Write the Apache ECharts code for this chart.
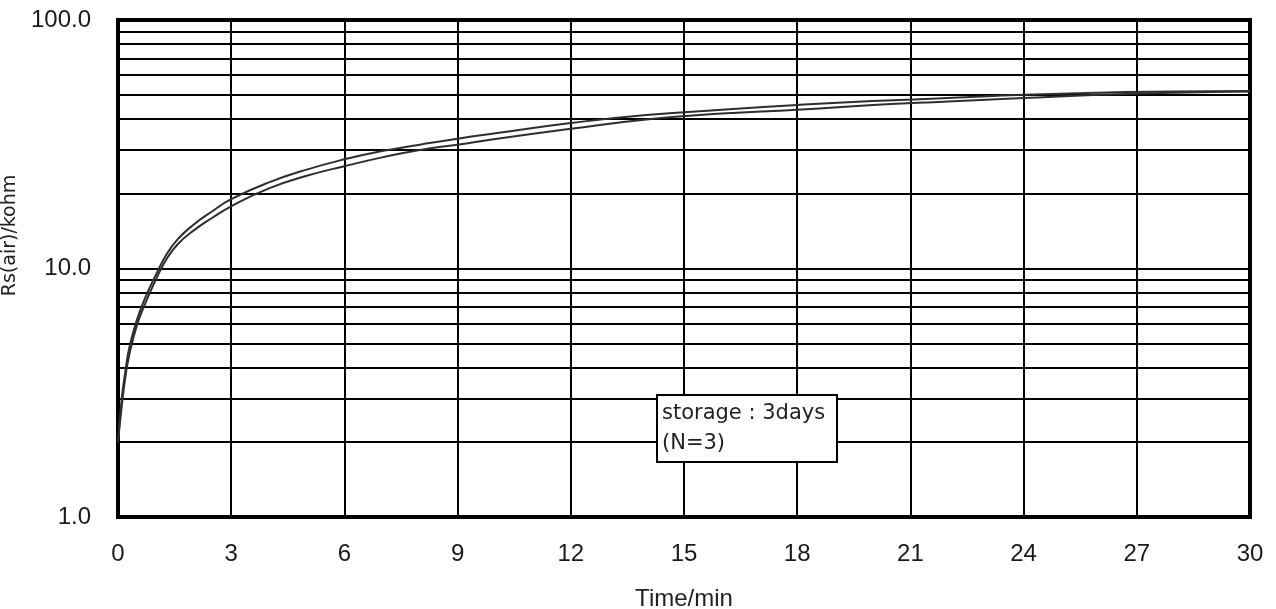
<!DOCTYPE html>
<html>
<head>
<meta charset="utf-8">
<script src="https://cdn.jsdelivr.net/npm/echarts@6/dist/echarts.min.js"></script>
<style>
  html, body { margin: 0; padding: 0; background: #fff; }
  #chart { width: 1276px; height: 609px; }
</style>
</head>
<body>
<div id="chart"></div>
<script>
// time in minutes
const times = [0, 0.1, 0.2, 0.3, 0.5, 0.7, 1.0, 1.3, 1.6, 2, 2.5, 3, 4, 5, 6, 7, 8, 9, 10, 12, 14, 16, 18, 20, 22, 24, 26, 28, 30]
// Rs(air) in kohm, two overlapping traces
const traceA = [2.0, 3.0, 3.9, 4.8, 6.2, 7.5, 9.4, 11.5, 13.2, 15.0, 17.0, 19.0, 22.2, 25.0, 27.5, 29.7, 31.5, 33.3, 35.0, 38.5, 41.5, 43.5, 45.5, 47.2, 48.5, 50.0, 51.0, 51.5, 51.8]
const traceB = [2.0, 2.8, 3.7, 4.5, 5.9, 7.1, 9.0, 11.0, 12.6, 14.2, 16.0, 17.8, 21.0, 23.6, 25.8, 28.0, 30.0, 31.5, 33.2, 36.5, 39.8, 42.0, 43.5, 45.5, 47.0, 48.5, 50.0, 51.0, 51.5]
// minor log grid lines
const minorGrid = [2, 3, 4, 5, 6, 7, 8, 9, 20, 30, 40, 50, 60, 70, 80, 90]
const noteText = 'storage : 3days\n(N=3)'

const chart = echarts.init(document.getElementById('chart'))

const lineColor = '#2e2e2e'
const sans = '"Liberation Sans", Arial, sans-serif'
const wide = '"DejaVu Sans", sans-serif'

chart.setOption({
  backgroundColor: '#fff',
  animation: false,
  grid: {
    left: 118, right: 26, top: 20, bottom: 92,
    containLabel: false,
    outerBoundsMode: 'none',
    show: true,
    borderColor: '#000',
    borderWidth: 4,
    backgroundColor: 'transparent',
  },
  title: {
    text: noteText,
    left: 657,
    top: 395,
    backgroundColor: '#fff',
    borderColor: '#000',
    borderWidth: 2,
    padding: [4, 12, 3, 5],
    textStyle: {
      color: '#222',
      fontFamily: wide,
      fontWeight: 'normal',
      fontSize: 21,
      lineHeight: 30,
    },
  },
  xAxis: {
    type: 'value',
    min: 0,
    max: 30,
    interval: 3,
    name: 'Time/min',
    nameLocation: 'middle',
    nameGap: 70,
    nameTextStyle: { color: '#222', fontFamily: sans, fontSize: 24 },
    axisLine: { show: false },
    axisTick: { show: false },
    axisLabel: { color: '#1a1a1a', fontFamily: sans, fontSize: 24, margin: 25 },
    splitLine: { show: true, lineStyle: { color: '#000', width: 2 } },
  },
  yAxis: {
    type: 'log',
    logBase: 10,
    min: 1,
    max: 100,
    splitNumber: 2,
    name: 'Rs(air)/kohm',
    nameLocation: 'middle',
    nameGap: 86,
    nameTextStyle: { color: '#222', fontFamily: wide, fontSize: 19, padding: [0, 0, 0, 66] },
    axisLine: { show: false },
    axisTick: { show: false },
    axisLabel: {
      color: '#1a1a1a',
      fontFamily: sans,
      fontSize: 24,
      margin: 27,
      formatter: (v) => Number(v).toFixed(1),
    },
    splitLine: { show: true, lineStyle: { color: '#000', width: 2 } },
  },
  series: [
    {
      name: 'grid',
      type: 'line',
      data: [],
      silent: true,
      markLine: {
        silent: true,
        symbol: 'none',
        label: { show: false },
        lineStyle: { color: '#000', width: 2, type: 'solid' },
        data: minorGrid.map((v) => ({ yAxis: v })),
      },
    },
    {
      name: 'A',
      type: 'line',
      data: times.map((t, i) => [t, traceA[i]]),
      smooth: true,
      symbol: 'none',
      lineStyle: { color: lineColor, width: 2 },
      z: 5,
    },
    {
      name: 'B',
      type: 'line',
      data: times.map((t, i) => [t, traceB[i]]),
      smooth: true,
      symbol: 'none',
      lineStyle: { color: lineColor, width: 2 },
      z: 5,
    },
  ],
})
</script>
</body>
</html>
